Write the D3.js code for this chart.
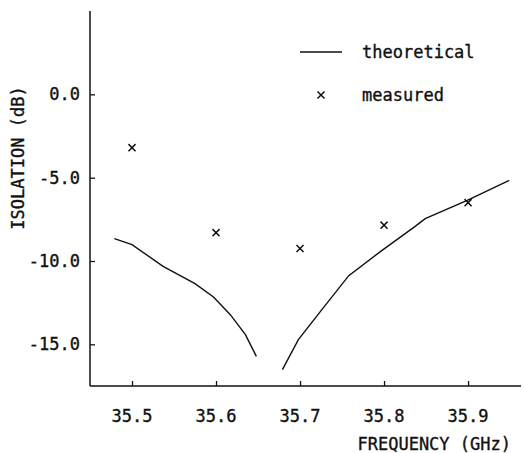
<!DOCTYPE html>
<html>
<head>
<meta charset="utf-8">
<script src="https://cdn.jsdelivr.net/npm/d3@7"></script>
<style>
  body { margin: 0; background: #fff; }
  text { font-family: "DejaVu Sans Mono", monospace; font-size: 17px; fill: #111; stroke: #111; stroke-width: 0.35px; }
</style>
</head>
<body>
<svg id="chart" width="524" height="453"></svg>
<script>
var freqTicks = [35.5, 35.6, 35.7, 35.8, 35.9];
var isoTicks = [0, -5, -10, -15];

var measuredFreq = [35.5, 35.6, 35.7, 35.8, 35.9];
var measuredIso = [-3.2, -8.3, -9.25, -7.85, -6.5];

// theoretical curve, two branches around the notch
var theoryLowFreq = [35.479, 35.5, 35.537, 35.575, 35.597, 35.617, 35.635, 35.648];
var theoryLowIso = [-8.66, -9.02, -10.32, -11.36, -12.16, -13.22, -14.42, -15.72];
var theoryHighFreq = [35.679, 35.698, 35.726, 35.758, 35.796, 35.837, 35.849, 35.899, 35.949];
var theoryHighIso = [-16.52, -14.72, -12.92, -10.88, -9.42, -7.92, -7.46, -6.36, -5.16];

var svg = d3.select('#chart');
var LEFT = 90, RIGHT = 521, TOP = 11, BOTTOM = 386;

var xScale = d3.scaleLinear().domain([35.45, 35.963]).range([LEFT, RIGHT]);
var yScale = d3.scaleLinear().domain([-17.5, 5]).range([BOTTOM, TOP]);

var zip = function(xs, ys){
  return xs.map(function(x, i){ return {x: x, y: ys[i]}; });
};

// axes
var xAxis = d3.axisTop(xScale).tickValues(freqTicks).tickSize(5).tickFormat('');
var yAxis = d3.axisRight(yScale).tickValues(isoTicks).tickSize(5).tickFormat('');

var gx = svg.append('g').attr('transform', 'translate(0,' + BOTTOM + ')').call(xAxis);
var gy = svg.append('g').attr('transform', 'translate(' + LEFT + ',0)').call(yAxis);
[gx, gy].forEach(function(g){
  g.select('.domain').remove();
  g.selectAll('line').attr('stroke', '#111').attr('stroke-width', 1.3);
});
svg.append('line').attr('x1', LEFT).attr('x2', RIGHT).attr('y1', BOTTOM).attr('y2', BOTTOM)
  .attr('stroke', '#111').attr('stroke-width', 1.5);
svg.append('line').attr('x1', LEFT).attr('x2', LEFT).attr('y1', TOP).attr('y2', BOTTOM)
  .attr('stroke', '#111').attr('stroke-width', 1.5);

// tick labels
svg.selectAll('.xlab').data(freqTicks).enter().append('text')
  .attr('x', function(d){ return xScale(d); })
  .attr('y', 422)
  .attr('text-anchor', 'middle')
  .text(function(d){ return d3.format('.1f')(d); });

svg.selectAll('.ylab').data(isoTicks).enter().append('text')
  .attr('x', 80)
  .attr('y', function(d){ return yScale(d) + 6; })
  .attr('text-anchor', 'end')
  .text(function(d){ return d3.format('.1f')(d).replace('−', '-'); });

// axis titles
svg.append('text').attr('x', 511).attr('y', 450).attr('text-anchor', 'end')
  .text('FREQUENCY (GHz)');
svg.append('text').attr('transform', 'translate(24,158) rotate(-90)')
  .attr('text-anchor', 'middle').text('ISOLATION (dB)');

// theoretical curve
var line = d3.line()
  .x(function(d){ return xScale(d.x); })
  .y(function(d){ return yScale(d.y); });

[zip(theoryLowFreq, theoryLowIso), zip(theoryHighFreq, theoryHighIso)].forEach(function(seg){
  svg.append('path').attr('d', line(seg))
    .attr('fill', 'none').attr('stroke', '#111').attr('stroke-width', 1.4);
});

// measured points
var cross = d3.symbol(d3.symbolX, 34);
svg.selectAll('.pt').data(zip(measuredFreq, measuredIso)).enter().append('path')
  .attr('d', cross)
  .attr('transform', function(d){ return 'translate(' + xScale(d.x) + ',' + yScale(d.y) + ')'; })
  .attr('fill', 'none').attr('stroke', '#111').attr('stroke-width', 1.5);

// legend
svg.append('line').attr('x1', 300).attr('x2', 342).attr('y1', 52).attr('y2', 52)
  .attr('stroke', '#111').attr('stroke-width', 1.3);
svg.append('text').attr('x', 362).attr('y', 58).text('theoretical');
svg.append('path').attr('d', cross).attr('transform', 'translate(321,95)')
  .attr('fill', 'none').attr('stroke', '#111').attr('stroke-width', 1.5);
svg.append('text').attr('x', 362).attr('y', 101).text('measured');
</script>
</body>
</html>
